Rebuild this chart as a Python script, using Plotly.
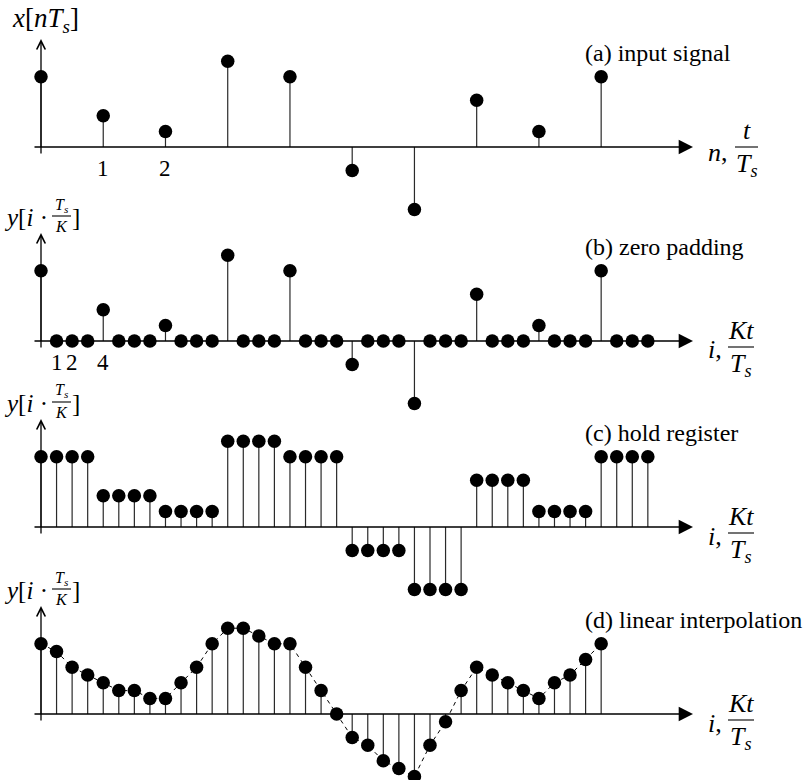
import plotly.graph_objects as go

# ---- data -------------------------------------------------------------
K = 4                                   # upsampling factor
n_idx = list(range(10))
x_input = [9, 4, 2, 11, 9, -3, -8, 6, 2, 9]

i_idx = list(range(40))
y_zero_pad = [9, 0, 0, 0, 4, 0, 0, 0, 2, 0, 0, 0, 11, 0, 0, 0, 9, 0, 0, 0,
              -3, 0, 0, 0, -8, 0, 0, 0, 6, 0, 0, 0, 2, 0, 0, 0, 9, 0, 0, 0]
y_hold = [9, 9, 9, 9, 4, 4, 4, 4, 2, 2, 2, 2, 11, 11, 11, 11, 9, 9, 9, 9,
          -3, -3, -3, -3, -8, -8, -8, -8, 6, 6, 6, 6, 2, 2, 2, 2, 9, 9, 9, 9]
i_interp = list(range(37))
y_interp = [9, 8, 6, 5, 4, 3, 3, 2, 2, 4, 6, 9, 11, 11, 10, 9, 9, 6, 3, 0,
            -3, -4, -6, -7, -8, -4, -1, 3, 6, 5, 4, 3, 2, 4, 5, 7, 9]

n_ticks = [1, 2]
i_ticks = [1, 2, 4]
titles = ["(a) input signal", "(b) zero padding",
          "(c) hold register", "(d) linear interpolation"]

# ---- geometry ---------------------------------------------------------
W, H = 806, 780
PX_PER_UNIT = 7.8        # vertical pixels per signal unit
X0_PX = 41.0             # pixel column of index 0
DI_PX = 15.56            # pixels per fine index i
AXIS_PX = [147, 341, 527, 714]   # pixel row of each panel's zero line
SERIF = "Times New Roman, Liberation Serif, serif"


def px(xp):
    return xp / W


def py(yp):
    return 1 - yp / H


fig = go.Figure()


def add_stems(xs, vals, xa, ya, dashed=False):
    if dashed:
        fig.add_trace(go.Scatter(x=xs, y=vals, xaxis=xa, yaxis=ya, mode="lines",
                                 line=dict(color="black", width=1, dash="4px,4px"),
                                 hoverinfo="skip"))
    sx, sy = [], []
    for xv, v in zip(xs, vals):
        if v != 0:
            sx += [xv, xv, None]
            sy += [0, v, None]
    fig.add_trace(go.Scatter(x=sx, y=sy, xaxis=xa, yaxis=ya, mode="lines",
                             line=dict(color="#2a2a2a", width=1.2),
                             hoverinfo="skip"))
    fig.add_trace(go.Scatter(x=xs, y=vals, xaxis=xa, yaxis=ya, mode="markers",
                             marker=dict(color="black", size=13.5), cliponaxis=False))


add_stems(n_idx, x_input, "x2", "y")
add_stems(i_idx, y_zero_pad, "x", "y2")
add_stems(i_idx, y_hold, "x", "y3")
add_stems(i_interp, y_interp, "x", "y4", dashed=True)

annotations = []
shapes = []


def text(x, y, s, size, xanchor="center", yanchor="middle", xref="paper", yref="paper"):
    annotations.append(dict(x=x, y=y, xref=xref, yref=yref, text=s, showarrow=False,
                            xanchor=xanchor, yanchor=yanchor, borderpad=0,
                            font=dict(family=SERIF, size=size, color="black")))


def bar(x0, x1, y):
    shapes.append(dict(type="line", xref="paper", yref="paper",
                       x0=px(x0), x1=px(x1), y0=py(y), y1=py(y),
                       line=dict(color="black", width=1.1)))


for k, P in enumerate(AXIS_PX):
    # horizontal axis with arrow
    annotations.append(dict(x=px(693), y=py(P), xref="paper", yref="paper",
                            ax=-(693 - 33), ay=0, text="", showarrow=True,
                            arrowhead=2, arrowsize=2.2, arrowwidth=1.3,
                            arrowcolor="black"))
    # vertical axis with arrow
    annotations.append(dict(x=px(X0_PX), y=py(P - 108), xref="paper", yref="paper",
                            ax=0, ay=116, text="", showarrow=True,
                            arrowhead=5, arrowsize=1.3, arrowwidth=1.3,
                            arrowcolor="black"))
    # panel title
    text(px(584), py(P - 94), titles[k], 24, xanchor="left")

    if k == 0:
        text(px(11), py(P - 127), "<i>x</i>[<i>nT<sub>s</sub></i>]", 27, xanchor="left")
        text(px(707), py(P + 6), "<i>n</i>,", 26, xanchor="left")
        bar(735, 758, P)
        text(px(746.5), py(P - 1), "<i>t</i>", 26, yanchor="bottom")
        text(px(746.5), py(P + 1), "<i>T<sub>s</sub></i>", 26, yanchor="top")
    else:
        b = P - 125
        text(px(49), py(b + 1), "<i>y</i>[<i>i</i> ·", 25, xanchor="right")
        bar(52, 71, b)
        text(px(61.5), py(b - 0.5), "<i>T<sub>s</sub></i>", 16, yanchor="bottom")
        text(px(61.5), py(b + 0.5), "<i>K</i>", 16, yanchor="top")
        text(px(71), py(b + 1), "]", 25, xanchor="left")
        text(px(707), py(P + 9), "<i>i</i>,", 26, xanchor="left")
        bar(728, 754, P + 6)
        text(px(741), py(P + 5), "<i>Kt</i>", 26, yanchor="bottom")
        text(px(741), py(P + 7), "<i>T<sub>s</sub></i>", 26, yanchor="top")

# tick labels
for t in n_ticks:
    text(t, 0, str(t), 23, yanchor="top", xref="x2", yref="y")
for t in i_ticks:
    text(t, 0, str(t), 23, yanchor="top", xref="x", yref="y2")
# nudge tick labels below their axes (pixel offsets)
for a in annotations:
    if a.get("xref") in ("x", "x2"):
        a["yshift"] = -8

x_range = [-X0_PX / DI_PX, (W - X0_PX) / DI_PX]
layout_axes = dict(
    xaxis=dict(range=x_range, visible=False, domain=[0, 1], fixedrange=True),
    xaxis2=dict(range=[v / K for v in x_range], visible=False, overlaying="x",
                fixedrange=True),
)
for k, P in enumerate(AXIS_PX):
    name = "yaxis" if k == 0 else f"yaxis{k + 1}"
    ax = dict(range=[-(H - P) / PX_PER_UNIT, P / PX_PER_UNIT], visible=False,
              domain=[0, 1], fixedrange=True)
    if k > 0:
        ax["overlaying"] = "y"
    layout_axes[name] = ax

fig.update_layout(
    width=W, height=H,
    margin=dict(l=0, r=0, t=0, b=0),
    paper_bgcolor="white", plot_bgcolor="rgba(0,0,0,0)",
    showlegend=False,
    annotations=annotations, shapes=shapes,
    **layout_axes,
)

fig.write_html("out.html")
